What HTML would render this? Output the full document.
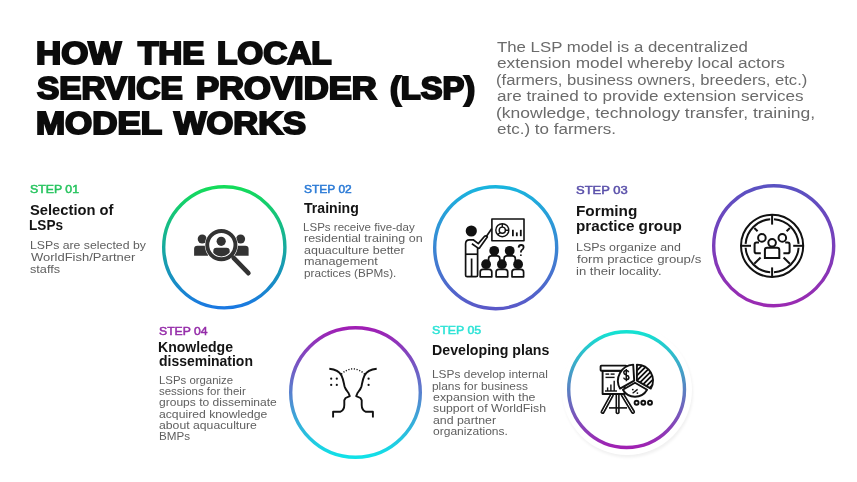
<!DOCTYPE html>
<html><head><meta charset="utf-8"><style>
html,body{margin:0;padding:0;background:#fff;width:857px;height:482px;overflow:hidden}
body{position:relative;font-family:"Liberation Sans",sans-serif}
.t{position:absolute;white-space:nowrap;line-height:1;transform-origin:0 0;font-weight:400;opacity:0.999}
.b{font-weight:700}
.ring{position:absolute;overflow:visible}
.ic{position:absolute;left:0;top:0}
</style></head><body>
<div style="position:absolute;left:0;top:0;width:1px;height:1px;filter:grayscale(1)"></div>
<div style="position:absolute;left:561.5px;top:324.5px;width:130px;height:130px;border-radius:50%;background:#fff;box-shadow:1px 2.5px 3px rgba(0,0,0,0.06)"></div><svg class="ring" style="left:159.90px;top:183.00px" width="128.60" height="128.60" viewBox="159.90 183.00 128.60 128.60">
<defs><linearGradient id="g1" x1="0" y1="0" x2="0" y2="1"><stop offset="0" stop-color="#14dc5a"/><stop offset="1" stop-color="#1a78e2"/></linearGradient></defs>
<circle cx="224.2" cy="247.3" r="60.60" fill="none" stroke="url(#g1)" stroke-width="3.4"/></svg>
<svg class="ring" style="left:430.80px;top:183.10px" width="129.40" height="129.40" viewBox="430.80 183.10 129.40 129.40">
<defs><linearGradient id="g2" x1="0" y1="0" x2="0" y2="1"><stop offset="0" stop-color="#19b4de"/><stop offset="1" stop-color="#5a58c8"/></linearGradient></defs>
<circle cx="495.5" cy="247.8" r="61.00" fill="none" stroke="url(#g2)" stroke-width="3.4"/></svg>
<svg class="ring" style="left:709.50px;top:182.30px" width="127.40" height="127.40" viewBox="709.50 182.30 127.40 127.40">
<defs><linearGradient id="g3" x1="0" y1="0" x2="0" y2="1"><stop offset="0" stop-color="#5a52c2"/><stop offset="1" stop-color="#9a2ab2"/></linearGradient></defs>
<circle cx="773.2" cy="246.0" r="60.00" fill="none" stroke="url(#g3)" stroke-width="3.4"/></svg>
<svg class="ring" style="left:286.60px;top:324.00px" width="137.00" height="137.00" viewBox="286.60 324.00 137.00 137.00">
<defs><linearGradient id="g4" x1="0" y1="0" x2="0" y2="1"><stop offset="0" stop-color="#a01eb4"/><stop offset="1" stop-color="#10e2e8"/></linearGradient></defs>
<circle cx="355.1" cy="392.5" r="64.80" fill="none" stroke="url(#g4)" stroke-width="3.4"/></svg>
<svg class="ring" style="left:564.90px;top:327.90px" width="123.20" height="123.20" viewBox="564.90 327.90 123.20 123.20">
<defs><linearGradient id="g5" x1="0" y1="0" x2="0" y2="1"><stop offset="0" stop-color="#14e2d2"/><stop offset="1" stop-color="#a020b2"/></linearGradient></defs>
<circle cx="626.5" cy="389.5" r="57.90" fill="none" stroke="url(#g5)" stroke-width="3.4"/></svg>
<svg class="ic" width="857" height="482" viewBox="0 0 857 482">
<!-- Icon 1: people + magnifier -->
<g fill="#333">
  <circle cx="202.2" cy="239" r="4.5"/>
  <circle cx="240.6" cy="239" r="4.5"/>
  <path d="M194.1 255.7 V249 Q194.1 245.7 197.4 245.7 H208 V255.7 Z"/>
  <path d="M248.6 255.7 V249 Q248.6 245.7 245.3 245.7 H234.7 V255.7 Z"/>
  <circle cx="221.35" cy="245.1" r="16.6" fill="#fff"/>
  <circle cx="221.35" cy="245.1" r="14.1" fill="none" stroke="#333" stroke-width="3.9"/>
  <circle cx="221.2" cy="241.3" r="4.6"/>
  <clipPath id="mc"><circle cx="221.35" cy="245.1" r="11.3"/></clipPath><path clip-path="url(#mc)" d="M213.3 258 V251 Q213.3 247.8 216.5 247.8 H226.5 Q229.7 247.8 229.7 251 V258 Z"/>
  <line x1="233.6" y1="257.8" x2="248.4" y2="273.2" stroke="#333" stroke-width="4.6" stroke-linecap="round"/>
</g>
<!-- Icon 2: training -->
<g stroke="#111" stroke-width="1.7" fill="none" stroke-linejoin="round">
  <rect x="491.9" y="219" width="32.1" height="21.8" stroke-width="1.6"/>
  <circle cx="502.3" cy="230.2" r="6.5" stroke-width="1.4"/>
  <circle cx="502.3" cy="230.2" r="3.1" stroke-width="1.4"/>
  <path d="M502.3 227.1 V223.7 M505.4 230.2 H508.8 M500.1 232.4 L497.7 234.8" stroke-width="1.4"/>
  <line x1="512.9" y1="229.8" x2="512.9" y2="236.2" stroke-width="1.8"/>
  <line x1="516.8" y1="232.4" x2="516.8" y2="236.2" stroke-width="1.8"/>
  <line x1="520.8" y1="229.8" x2="520.8" y2="236.2" stroke-width="1.8"/>
  <path d="M465.6 275.2 V243.8 Q465.6 239.8 469.5 239.8 H473.2 L478.3 243.6 L484.6 236.3 Q486.4 235.2 487.3 237 L479.8 247.6 Q478.9 248.7 477.8 247.9 L471.9 243.7 M477.6 248.3 V275.2 Q477.6 276.7 476 276.7 H473 Q471.6 276.7 471.6 275.2 V258.6 M471.6 275.2 Q471.6 276.7 470 276.7 H467.2 Q465.6 276.7 465.6 275.2"/>
  <line x1="465.6" y1="254.2" x2="477.6" y2="254.2"/>
  <line x1="486.3" y1="236.4" x2="491.8" y2="228.6"/>
  <path d="M488.6 261 V258.6 Q488.6 255.8 491.4 255.8 H497 Q499.8 255.8 499.8 258.6 V261"/>
  <path d="M504.1 261 V258.6 Q504.1 255.8 506.9 255.8 H512.5 Q515.3 255.8 515.3 258.6 V261"/>
  <path d="M480.2 276.8 V272 Q480.2 269.3 483 269.3 H489 Q491.8 269.3 491.8 272 V276.8 Z"/>
  <path d="M496.1 276.8 V272 Q496.1 269.3 498.9 269.3 H504.9 Q507.7 269.3 507.7 272 V276.8 Z"/>
  <path d="M512 276.8 V272 Q512 269.3 514.8 269.3 H520.8 Q523.6 269.3 523.6 272 V276.8 Z"/>
  <path d="M518.6 247.6 Q518.8 245 521.2 245 Q523.6 245 523.6 247.3 Q523.6 249 521.6 250.2 Q520.9 250.8 520.9 252.6" stroke-width="1.8"/>
</g>
<g fill="#111">
  <circle cx="471.3" cy="231" r="5.6"/>
  <circle cx="494.2" cy="250.8" r="4.9"/>
  <circle cx="509.7" cy="250.8" r="4.9"/>
  <circle cx="486.1" cy="264.2" r="4.9"/>
  <circle cx="501.9" cy="264.2" r="4.9"/>
  <circle cx="518.1" cy="264.2" r="4.9"/>
  <circle cx="520.9" cy="255.2" r="0.9"/>
</g>
<!-- Icon 3: target group -->
<g stroke="#111" stroke-width="2" fill="none" stroke-linecap="butt">
  <circle cx="772.1" cy="245.8" r="31.1"/>
  <path d="M 770.2 219.2 A 26.6 26.6 0 0 0 745.6 243.9 M 745.6 247.7 A 26.6 26.6 0 0 0 770.2 272.3 M 774 272.3 A 26.6 26.6 0 0 0 798.6 247.7 M 798.6 243.9 A 26.6 26.6 0 0 0 774 219.2"/>
  <line x1="772.1" y1="214.7" x2="772.1" y2="224.6"/>
  <line x1="772.1" y1="267.4" x2="772.1" y2="277"/>
  <line x1="741" y1="245.8" x2="751" y2="245.8"/>
  <line x1="793.2" y1="245.8" x2="803.2" y2="245.8"/>
  <line x1="754.3" y1="228" x2="757.6" y2="231.3"/>
  <line x1="789.9" y1="228" x2="786.6" y2="231.3"/>
  <line x1="754.3" y1="263.8" x2="760.6" y2="257.5"/>
  <line x1="789.9" y1="263.8" x2="783.6" y2="257.5"/>
  <circle cx="761.9" cy="237.9" r="3.8"/>
  <circle cx="782.3" cy="237.9" r="3.8"/>
  <path d="M760.8 253.2 H756.4 Q754.6 253.2 754.6 251.4 V244.5 Q754.6 242.6 756.5 242.6 H759"/>
  <path d="M783.4 253.2 H787.8 Q789.6 253.2 789.6 251.4 V244.5 Q789.6 242.6 787.7 242.6 H785.2"/>
  <path d="M764.9 258 V250 Q764.9 247.8 767.1 247.8 H777.1 Q779.3 247.8 779.3 250 V258 Z" fill="#fff"/>
  <circle cx="772.1" cy="242.8" r="3.8" fill="#fff"/>
</g>
<!-- Icon 4: faces -->
<g stroke="#111" stroke-width="1.9" fill="none" stroke-linejoin="round">
  <path d="M329.3 368.7 C 335 369.2 339.5 371.5 341.5 375.5 C 343.5 379.5 343.8 383.5 344.6 386.6 C 345.5 389.5 347.5 391.5 348.5 393 L 349.8 396.1 L 345.6 398 L 344.3 400.2 V 405 C 344.3 408 343 410.5 340.5 411.7 H 333.1 V 417.4"/>
  <path d="M376.7 368.7 C 371 369.2 366.5 371.5 364.5 375.5 C 362.5 379.5 362.2 383.5 361.4 386.6 C 360.5 389.5 358.5 391.5 357.5 393 L 356.2 396.1 L 360.4 398 L 361.7 400.2 V 405 C 361.7 408 363 410.5 365.5 411.7 H 372.9 V 417.4"/>
  <path d="M341.2 374.2 Q 353 363.5 364.8 374.2" stroke-dasharray="1.2 1.6" stroke-width="1.4"/>
</g>
<g fill="#111">
  <circle cx="331.2" cy="378.7" r="1.1"/><circle cx="336.8" cy="378.7" r="1.1"/>
  <circle cx="331.2" cy="384.9" r="1.1"/><circle cx="336.8" cy="384.9" r="1.1"/>
  <circle cx="368.6" cy="378.7" r="1.1"/><circle cx="368.6" cy="384.9" r="1.1"/>
</g>
<!-- Icon 5: presentation -->
<defs><clipPath id="hc"><path d="M636.9 380.6 V364.6 A 16 16 0 0 1 650.8 388.6 Z"/></clipPath></defs>
<g stroke="#111" stroke-width="1.9" fill="#fff" stroke-linejoin="round">
  <path d="M611.9 395 L602.6 411.9" stroke-width="4.2" stroke-linecap="round"/>
  <path d="M611.9 395 L602.6 411.9" stroke="#fff" stroke-width="1" stroke-linecap="round"/>
  <path d="M617.6 395 V412.2" stroke-width="4.2" stroke-linecap="round"/>
  <path d="M617.6 395 V412.2" stroke="#fff" stroke-width="1" stroke-linecap="round"/>
  <path d="M622.7 395 L633 411.9" stroke-width="4.2" stroke-linecap="round"/>
  <path d="M622.7 395 L633 411.9" stroke="#fff" stroke-width="1" stroke-linecap="round"/>
  <line x1="609" y1="407.9" x2="627" y2="407.9" stroke-width="1.6"/>
  <rect x="602.6" y="370.8" width="22" height="23.2"/>
  <rect x="600.6" y="365.6" width="26" height="5.2" rx="0.8"/>
  <line x1="605.5" y1="374.1" x2="609.2" y2="374.1" stroke-width="1.4"/>
  <line x1="610.6" y1="374.1" x2="614.6" y2="374.1" stroke-width="1.4"/>
  <line x1="605.5" y1="377.4" x2="614.6" y2="377.4" stroke-width="1.4"/>
  <line x1="605" y1="391" x2="617" y2="391" stroke-width="1.4"/>
  <line x1="607.6" y1="391" x2="607.6" y2="387.4" stroke-width="1.4"/>
  <line x1="610.9" y1="391" x2="610.9" y2="384.5" stroke-width="1.4"/>
  <line x1="614.2" y1="391" x2="614.2" y2="380.7" stroke-width="1.4"/>
  <path d="M634.2 380.6 L620 388.6 A 16.2 16.2 0 0 1 633.2 364.6 Z"/>
  <path d="M636.9 380.6 V364.6 A 16 16 0 0 1 650.8 388.6 Z"/>
  <path d="M635 382.8 L647.1 389.8 A 14 14 0 0 1 622.9 389.8 Z"/>
  <circle cx="636.6" cy="402.8" r="2"/><circle cx="643.3" cy="402.8" r="2"/><circle cx="650" cy="402.8" r="2"/>
</g>
<g stroke="#111" stroke-width="1.9" fill="none" clip-path="url(#hc)">
  <path d="M625 377.5 L660 342.5 M625 382.5 L660 347.5 M625 387.5 L660 352.5 M625 392.5 L660 357.5 M625 397.5 L660 362.5 M625 402.5 L660 367.5 M625 407.5 L660 372.5 M625 412.5 L660 377.5 M625 417.5 L660 382.5"/>
</g>
<g stroke="#111" fill="none">
  
  <path d="M632.6 393.2 L637.6 389.4" stroke-width="1.4"/>
</g>
<g fill="#111"><circle cx="632.8" cy="389.6" r="0.9"/><circle cx="637.4" cy="393.1" r="0.9"/></g>
<path d="M628.7 372.3 C628.3 371.1 627.4 370.6 626.3 370.6 C624.8 370.6 623.8 371.5 623.8 372.7 C623.8 375.6 628.9 374.4 628.9 377.4 C628.9 378.7 627.8 379.5 626.3 379.5 C624.9 379.5 623.9 378.8 623.6 377.6 M626.3 368.9 V381.2" stroke="#111" stroke-width="1.5" fill="none"/>
</svg>

<div class="t b" style="left:35.58px;top:38.28px;font-size:30.43px;color:#0c0c0c;transform:scaleX(1.1473);-webkit-text-stroke:2.0px #0c0c0c">HOW</div>
<div class="t b" style="left:137.56px;top:38.28px;font-size:30.43px;color:#0c0c0c;transform:scaleX(1.0927);-webkit-text-stroke:2.0px #0c0c0c">THE</div>
<div class="t b" style="left:216.93px;top:38.28px;font-size:30.43px;color:#0c0c0c;transform:scaleX(1.0947);-webkit-text-stroke:2.0px #0c0c0c">LOCAL</div>
<div class="t b" style="left:36.90px;top:73.28px;font-size:30.43px;color:#0c0c0c;transform:scaleX(1.0946);-webkit-text-stroke:2.0px #0c0c0c">SERVICE</div>
<div class="t b" style="left:195.59px;top:73.28px;font-size:30.43px;color:#0c0c0c;transform:scaleX(1.1372);-webkit-text-stroke:2.0px #0c0c0c">PROVIDER</div>
<div class="t b" style="left:389.84px;top:73.28px;font-size:30.43px;color:#0c0c0c;transform:scaleX(1.0720);-webkit-text-stroke:2.0px #0c0c0c">(LSP)</div>
<div class="t b" style="left:35.68px;top:108.28px;font-size:30.43px;color:#0c0c0c;transform:scaleX(1.1489);-webkit-text-stroke:2.0px #0c0c0c">MODEL</div>
<div class="t b" style="left:174.33px;top:108.28px;font-size:30.43px;color:#0c0c0c;transform:scaleX(1.1328);-webkit-text-stroke:2.0px #0c0c0c">WORKS</div>
<div class="t" style="left:496.96px;top:39.54px;font-size:14.93px;color:#6b6b6b;transform:scaleX(1.1255)">The LSP model is a decentralized</div>
<div class="t" style="left:496.61px;top:55.54px;font-size:14.93px;color:#6b6b6b;transform:scaleX(1.1570)">extension model whereby local actors</div>
<div class="t" style="left:496.30px;top:72.54px;font-size:14.93px;color:#6b6b6b;transform:scaleX(1.1140)">(farmers, business owners, breeders, etc.)</div>
<div class="t" style="left:496.62px;top:88.54px;font-size:14.93px;color:#6b6b6b;transform:scaleX(1.1446)">are trained to provide extension services</div>
<div class="t" style="left:496.25px;top:105.54px;font-size:14.93px;color:#6b6b6b;transform:scaleX(1.1731)">(knowledge, technology transfer, training,</div>
<div class="t" style="left:496.62px;top:121.54px;font-size:14.93px;color:#6b6b6b;transform:scaleX(1.1399)">etc.) to farmers.</div>
<div class="t" style="left:29.91px;top:183.13px;font-size:11.74px;color:#27c45f;transform:scaleX(1.0492);-webkit-text-stroke:0.5px #27c45f">STEP 01</div>
<div class="t" style="left:304.02px;top:183.13px;font-size:11.74px;color:#2a7ad6;transform:scaleX(1.0202);-webkit-text-stroke:0.5px #2a7ad6">STEP 02</div>
<div class="t" style="left:576.19px;top:184.13px;font-size:11.74px;color:#5a50aa;transform:scaleX(1.1062);-webkit-text-stroke:0.5px #5a50aa">STEP 03</div>
<div class="t" style="left:158.91px;top:325.13px;font-size:11.74px;color:#952ca9;transform:scaleX(1.0388);-webkit-text-stroke:0.5px #952ca9">STEP 04</div>
<div class="t" style="left:432.01px;top:324.13px;font-size:11.74px;color:#2ee3d6;transform:scaleX(1.0522);-webkit-text-stroke:0.5px #2ee3d6">STEP 05</div>
<div class="t b" style="left:29.66px;top:203.25px;font-size:14.49px;color:#141414;transform:scaleX(1.0166)">Selection of</div>
<div class="t b" style="left:29.42px;top:218.25px;font-size:14.49px;color:#141414;transform:scaleX(0.9392)">LSPs</div>
<div class="t b" style="left:304.06px;top:201.25px;font-size:14.49px;color:#141414;transform:scaleX(0.9731)">Training</div>
<div class="t b" style="left:575.80px;top:204.25px;font-size:14.49px;color:#141414;transform:scaleX(1.0573)">Forming</div>
<div class="t b" style="left:575.81px;top:219.25px;font-size:14.49px;color:#141414;transform:scaleX(1.0511)">practice group</div>
<div class="t b" style="left:158.49px;top:340.25px;font-size:14.49px;color:#141414;transform:scaleX(0.9710)">Knowledge</div>
<div class="t b" style="left:158.64px;top:354.25px;font-size:14.49px;color:#141414;transform:scaleX(0.9644)">dissemination</div>
<div class="t b" style="left:432.08px;top:343.25px;font-size:14.49px;color:#141414;transform:scaleX(0.9791)">Developing plans</div>
<div class="t" style="left:29.72px;top:239.99px;font-size:11.01px;color:#5f5f5f;transform:scaleX(1.1143)">LSPs are selected by</div>
<div class="t" style="left:30.63px;top:251.99px;font-size:11.01px;color:#5f5f5f;transform:scaleX(1.1803)">WorldFish/Partner</div>
<div class="t" style="left:30.32px;top:263.99px;font-size:11.01px;color:#5f5f5f;transform:scaleX(1.1541)">staffs</div>
<div class="t" style="left:303.47px;top:221.99px;font-size:11.01px;color:#5f5f5f;transform:scaleX(1.0499)">LSPs receive five-day</div>
<div class="t" style="left:303.59px;top:232.99px;font-size:11.01px;color:#5f5f5f;transform:scaleX(1.1340)">residential training on</div>
<div class="t" style="left:303.90px;top:244.99px;font-size:11.01px;color:#5f5f5f;transform:scaleX(1.1353)">aquaculture better</div>
<div class="t" style="left:303.58px;top:255.99px;font-size:11.01px;color:#5f5f5f;transform:scaleX(1.1481)">management</div>
<div class="t" style="left:303.64px;top:267.99px;font-size:11.01px;color:#5f5f5f;transform:scaleX(1.0634)">practices (BPMs).</div>
<div class="t" style="left:575.81px;top:241.99px;font-size:11.01px;color:#5f5f5f;transform:scaleX(1.1282)">LSPs organize and</div>
<div class="t" style="left:576.60px;top:253.99px;font-size:11.01px;color:#5f5f5f;transform:scaleX(1.2028)">form practice group/s</div>
<div class="t" style="left:575.95px;top:265.99px;font-size:11.01px;color:#5f5f5f;transform:scaleX(1.1897)">in their locality.</div>
<div class="t" style="left:158.59px;top:374.99px;font-size:11.01px;color:#5f5f5f;transform:scaleX(1.0360)">LSPs organize</div>
<div class="t" style="left:159.16px;top:385.99px;font-size:11.01px;color:#5f5f5f;transform:scaleX(1.0433)">sessions for their</div>
<div class="t" style="left:159.02px;top:396.99px;font-size:11.01px;color:#5f5f5f;transform:scaleX(1.0947)">groups to disseminate</div>
<div class="t" style="left:159.01px;top:408.99px;font-size:11.01px;color:#5f5f5f;transform:scaleX(1.1078)">acquired knowledge</div>
<div class="t" style="left:159.01px;top:419.99px;font-size:11.01px;color:#5f5f5f;transform:scaleX(1.1119)">about aquaculture</div>
<div class="t" style="left:158.57px;top:430.99px;font-size:11.01px;color:#5f5f5f;transform:scaleX(1.0610)">BMPs</div>
<div class="t" style="left:432.25px;top:368.99px;font-size:11.01px;color:#5f5f5f;transform:scaleX(1.0823)">LSPs develop internal</div>
<div class="t" style="left:432.43px;top:380.99px;font-size:11.01px;color:#5f5f5f;transform:scaleX(1.0813)">plans for business</div>
<div class="t" style="left:432.70px;top:391.99px;font-size:11.01px;color:#5f5f5f;transform:scaleX(1.1245)">expansion with the</div>
<div class="t" style="left:432.83px;top:402.99px;font-size:11.01px;color:#5f5f5f;transform:scaleX(1.1162)">support of WorldFish</div>
<div class="t" style="left:432.71px;top:414.99px;font-size:11.01px;color:#5f5f5f;transform:scaleX(1.1207)">and partner</div>
<div class="t" style="left:432.72px;top:425.99px;font-size:11.01px;color:#5f5f5f;transform:scaleX(1.0933)">organizations.</div>
</body></html>
